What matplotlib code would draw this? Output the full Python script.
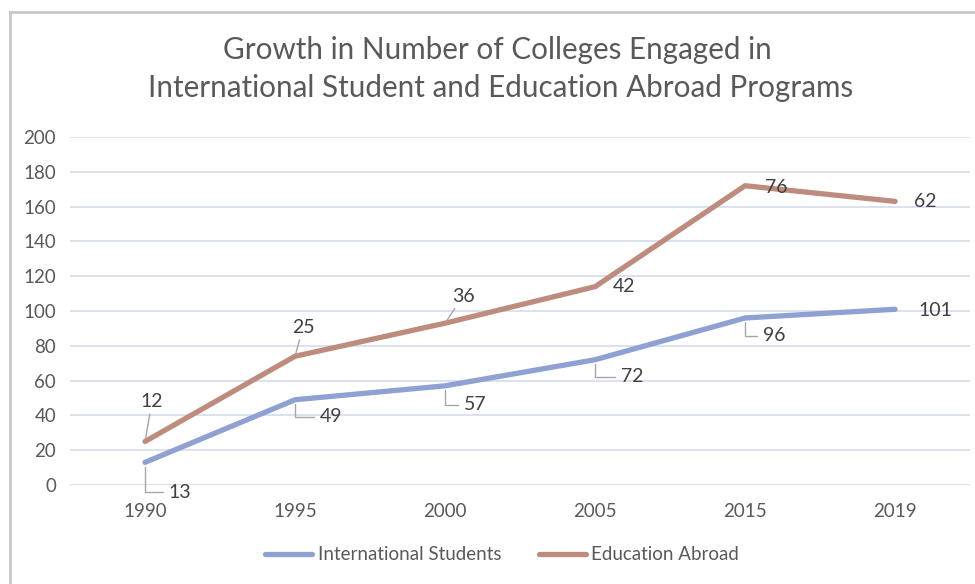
import matplotlib
matplotlib.use("Agg")
import matplotlib.pyplot as plt
from matplotlib.lines import Line2D

# ── Data ──
years = ["1990", "1995", "2000", "2005", "2015", "2019"]
intl_students = [13, 49, 57, 72, 96, 101]
edu_abroad = [12, 25, 36, 42, 76, 62]

# stacked: education abroad sits on top of international students
edu_stacked = [a + b for a, b in zip(intl_students, edu_abroad)]

c_intl = "#8FA1D3"
c_edu = "#BD8C7E"
c_grid = "#D9DEEF"
c_text = "#595959"
c_label = "#404040"
c_leader = "#A6A6A6"
font = "Lato"

plt.rcParams["font.family"] = [font, "DejaVu Sans"]

fig = plt.figure(figsize=(9.75, 5.84), dpi=100)
ax = fig.add_axes([0.0718, 0.1695, 0.9232, 0.5959])

x = list(range(len(years)))
ax.plot(x, intl_students, color=c_intl, lw=3.8, solid_capstyle="round",
        solid_joinstyle="round", label="International Students", zorder=3)
ax.plot(x, edu_stacked, color=c_edu, lw=3.8, solid_capstyle="round",
        solid_joinstyle="round", label="Education Abroad", zorder=3)

ax.set_xlim(-0.5, len(years) - 0.5)
ax.set_ylim(0, 200)
ax.set_yticks(range(0, 201, 20))
ax.set_xticks(x)
ax.set_xticklabels(years)
ax.yaxis.grid(True, color=c_grid, lw=1.3)
ax.set_axisbelow(True)
for s in ax.spines.values():
    s.set_visible(False)
ax.tick_params(length=0, labelsize=13.5, labelcolor=c_text)
ax.tick_params(axis="y", pad=10)
ax.tick_params(axis="x", pad=13)

# label offsets (pixels) and leader style per point
intl_off = [(35, -30, "elbow"), (36, -17, "elbow"), (30, -19, "elbow"),
            (37, -17, "elbow"), (29, -18, "elbow"), (40, -1, None)]
edu_off = [(7, 40, "straight"), (8, 29, "straight"), (18, 27, "straight"),
           (29, 0, None), (31, -2, None), (30, 0, None)]


def put_labels(vals, ys, offs):
    for i, (v, yv, (dx, dy, kind)) in enumerate(zip(vals, ys, offs)):
        props = None
        if kind == "elbow":
            props = dict(arrowstyle="-", color=c_leader, lw=1,
                         connectionstyle="angle,angleA=0,angleB=90,rad=0",
                         shrinkA=2, shrinkB=3)
        elif kind == "straight":
            props = dict(arrowstyle="-", color=c_leader, lw=1,
                         shrinkA=1, shrinkB=2)
        ax.annotate(str(v), xy=(i, yv), xytext=(dx, dy),
                    textcoords="offset pixels", ha="center", va="center",
                    fontsize=14, color=c_label, arrowprops=props, zorder=4)


put_labels(intl_students, intl_students, intl_off)
put_labels(edu_abroad, edu_stacked, edu_off)

fig.text(0.510, 0.914, "Growth in Number of Colleges Engaged in",
         ha="center", va="center", fontsize=21.3, color=c_text)
fig.text(0.513, 0.849, "International Student and Education Abroad Programs",
         ha="center", va="center", fontsize=21.3, color=c_text)

fig.legend(loc="center", bbox_to_anchor=(0.515, 0.05), ncol=2, frameon=False,
           fontsize=13.5, labelcolor=c_text, handlelength=2.5, handletextpad=0.3,
           columnspacing=2.0)

# chart border (top and left edges visible)
fig.add_artist(Line2D([10 / 975, 10 / 975], [0, 1 - 12 / 584],
                      transform=fig.transFigure, color="#C8C8C8", lw=2))
fig.add_artist(Line2D([10 / 975, 1], [1 - 12 / 584, 1 - 12 / 584],
                      transform=fig.transFigure, color="#C8C8C8", lw=2))

fig.savefig("out.png", dpi=100)
plt.close()
